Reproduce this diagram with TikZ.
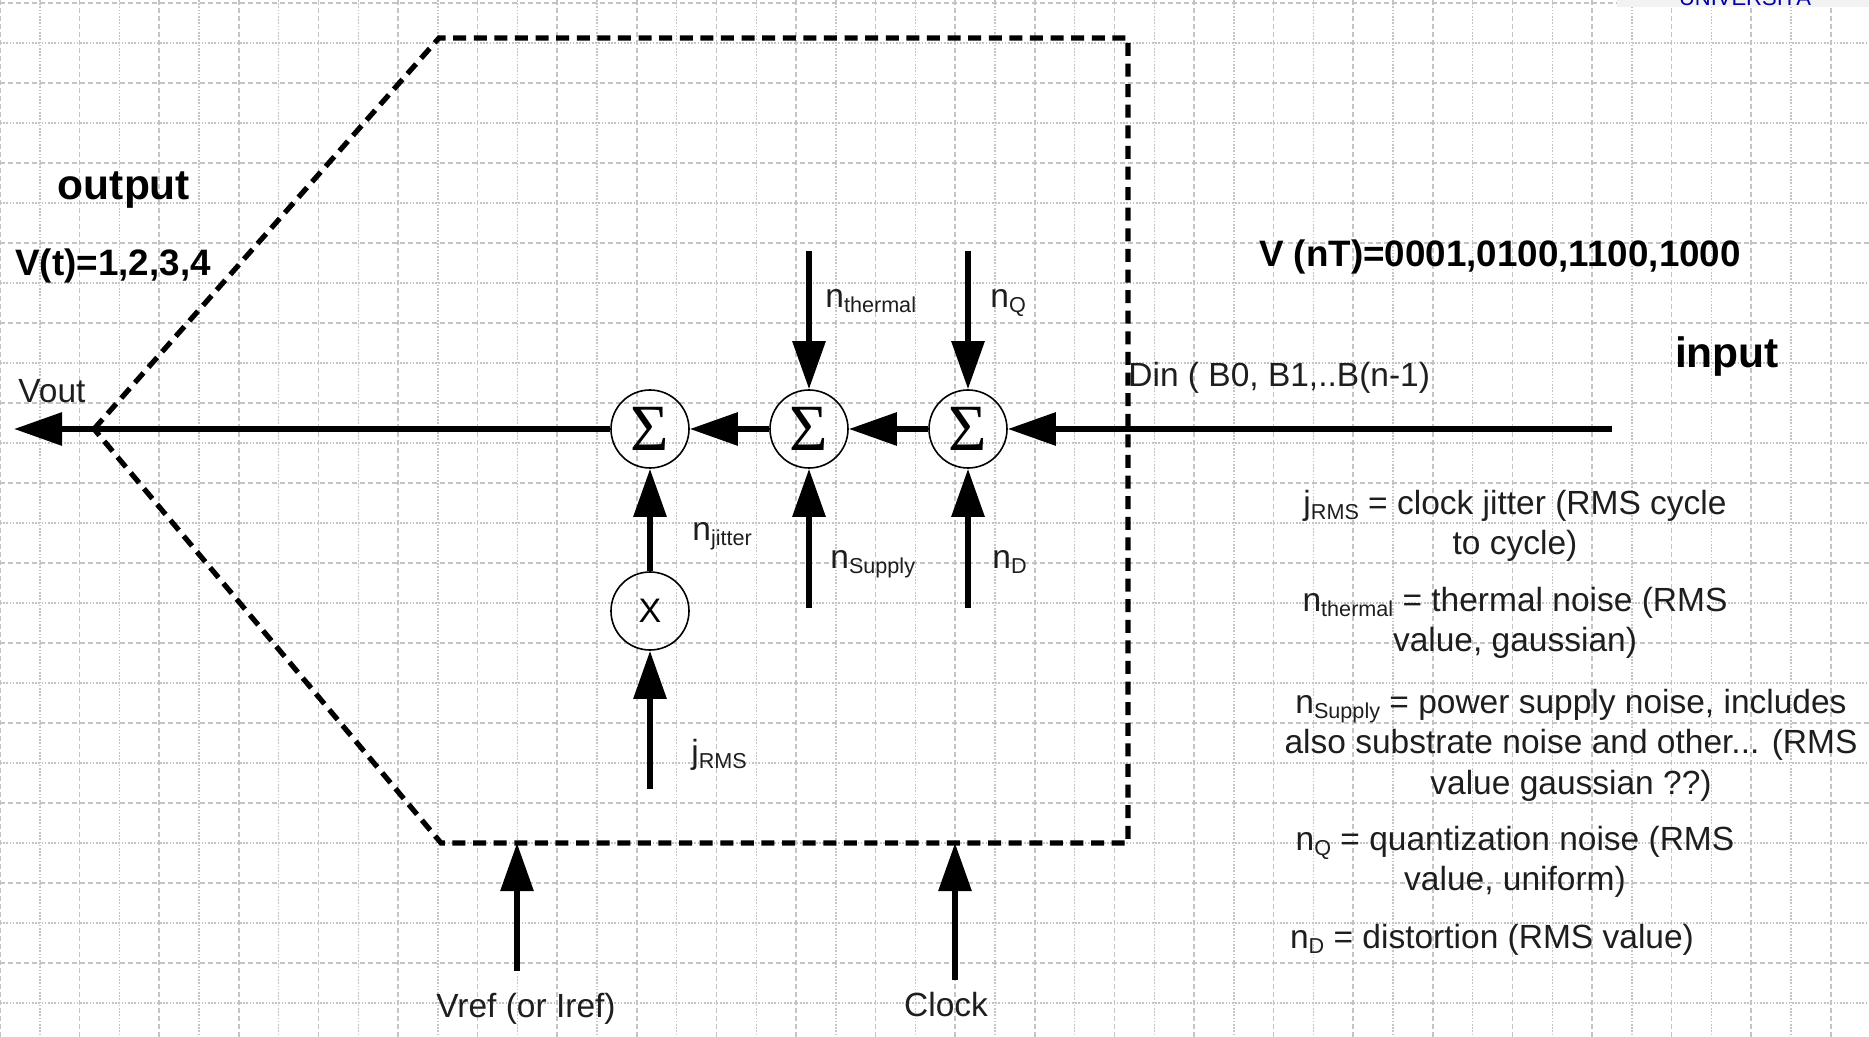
\documentclass[tikz,border=0pt]{standalone}
\usepackage{fontspec}
\setmainfont{Liberation Sans}
\newfontfamily\serifgr{Liberation Serif}
\usetikzlibrary{arrows.meta}
\newcommand\lblfont{\fontsize{16.75}{20.25}\selectfont}
\newcommand\bigbold{\fontsize{21.25}{24}\selectfont\bfseries}
\newcommand\medbold{\fontsize{18.4}{22}\selectfont\bfseries}
\newcommand\sbs[1]{\raisebox{-2.5pt}{\fontsize{10.8}{12}\selectfont #1}}
\definecolor{gridc}{HTML}{C4C4C4}
\definecolor{txt}{HTML}{1E1E1E}
\begin{document}
\begin{tikzpicture}[x=0.5pt,y=-0.5pt,
  gmaj/.style={draw=gridc,line width=0.8pt,dash pattern=on 2.5pt off 1.5pt},
  gmin/.style={draw=gridc,line width=0.7pt,dash pattern=on 0.8pt off 0.8pt},
  boxline/.style={draw=black,line width=2.6pt,dash pattern=on 6.5pt off 3.8pt},
  sig/.style={draw=black,line width=3pt,-{Triangle[length=24pt,width=16pt]}},
  sumnode/.style={circle,draw=black,line width=0.8pt,minimum size=39pt,inner sep=0pt},
  lbl/.style={inner sep=0pt,text=txt,font=\lblfont},
  legend/.style={inner sep=0pt,text=txt,font=\lblfont,align=center}]
\useasboundingbox (0,0) rectangle (1869,1037);
\fill[white] (0,0) rectangle (1869,1037);
% grid
\foreach \k in {0,...,46}{
  \pgfmathtruncatemacro\m{mod(\k,2)}
  \ifnum\m=0 \draw[gmaj] (39.8*\k,0) -- (39.8*\k,1037);
  \else \draw[gmin] (39.8*\k,0) -- (39.8*\k,1037); \fi }
\foreach \k in {0,...,25}{
  \pgfmathtruncatemacro\m{mod(\k,2)}
  \ifnum\m=0 \draw[gmaj] (0,3+40*\k) -- (1869,3+40*\k);
  \else \draw[gmin] (0,3+40*\k) -- (1869,3+40*\k); \fi }
% top-right fragment
\fill[gray!10] (1617,0) rectangle (1869,7);
\begin{scope}
  \clip (1617,0) rectangle (1869,7);
  \node[inner sep=0pt,anchor=base,text=blue!65!black,font=\fontsize{11}{12}\selectfont] (uni) at (1745,6) {UNIVERSITÀ};
\end{scope}
% dashed box
\coordinate (apex) at (94,429);
\coordinate (tl) at (439,38);
\coordinate (tr) at (1128,38);
\coordinate (br) at (1128,843);
\coordinate (bl) at (441,843);
\draw[boxline] (apex) -- (tl) -- (tr) -- (br) -- (bl) -- cycle;
% summing nodes
\node[sumnode] (s1) at (650,429) {\serifgr\fontsize{33}{33}\selectfont Σ};
\node[sumnode] (s2) at (809,429) {\serifgr\fontsize{33}{33}\selectfont Σ};
\node[sumnode] (s3) at (968,429) {\serifgr\fontsize{33}{33}\selectfont Σ};
\node[sumnode] (mx) at (650,611) {\fontsize{17}{17}\selectfont X};
% free ends
\coordinate (vout) at (14,429);
\coordinate (inp) at (1612,429);
\coordinate (nth) at (809,251);
\coordinate (nq) at (968,251);
\coordinate (nsup) at (809,608);
\coordinate (nd) at (968,608);
\coordinate (jrms) at (650,789);
\coordinate (vrefs) at (517,971);
\coordinate (vrefe) at (517,843);
\coordinate (clks) at (955,980);
\coordinate (clke) at (955,843);
% signal arrows
\draw[sig] (inp) -- (s3);
\draw[sig] (s3) -- (s2);
\draw[sig] (s2) -- (s1);
\draw[sig] (s1) -- (vout);
\draw[sig] (nth) -- (s2);
\draw[sig] (nq) -- (s3);
\draw[sig] (nsup) -- (s2);
\draw[sig] (nd) -- (s3);
\draw[sig] (mx) -- (s1);
\draw[sig] (jrms) -- (mx);
\draw[sig] (vrefs) -- (vrefe);
\draw[sig] (clks) -- (clke);
% arrow labels
\node[lbl,anchor=base west] (lth) at (825,308) {n\sbs{thermal}};
\node[lbl,anchor=base west] (lq) at (990,308) {n\sbs{Q}};
\node[lbl,anchor=base west] (ljit) at (692,540) {n\sbs{jitter}};
\node[lbl,anchor=base west] (lsup) at (830,568) {n\sbs{Supply}};
\node[lbl,anchor=base west] (ld) at (992,568) {n\sbs{D}};
\node[lbl,anchor=base west] (ljr) at (691,763) {j\sbs{RMS}};
% other labels
\node[inner sep=0pt,font=\bigbold] (out) at (124,190) {output};
\node[inner sep=0pt,font=\medbold,anchor=west] (vt) at (15,266) {V(t)=1,2,3,4};
\node[lbl,anchor=west] (lvout) at (18,391) {Vout};
\node[inner sep=0pt,font=\medbold] (vnt) at (1500,257) {V (nT)=0001,0100,1100,1000};
\node[inner sep=0pt,font=\bigbold] (inl) at (1727,357) {input};
\node[lbl,anchor=west] (din) at (1128,378) {Din ( B0, B1,..B(n-1)};
\node[lbl] (vref) at (526,1009) {Vref (or Iref)};
\node[lbl] (clk) at (946,1005) {Clock};
% legend
\node[legend] (lg1) at (1515,526) {j\sbs{RMS} = clock jitter (RMS cycle\\to cycle)};
\node[legend] (lg2) at (1515,623) {n\sbs{thermal} = thermal noise (RMS\\value, gaussian)};
\node[legend] (lg3) at (1571,745) {n\sbs{Supply} = power supply noise, includes\\also substrate noise and other... (RMS\\value gaussian ??)};
\node[legend] (lg4) at (1515,862) {n\sbs{Q} = quantization noise (RMS\\value, uniform)};
\node[legend] (lg5) at (1492,940) {n\sbs{D} = distortion (RMS value)};
\end{tikzpicture}
\end{document}
